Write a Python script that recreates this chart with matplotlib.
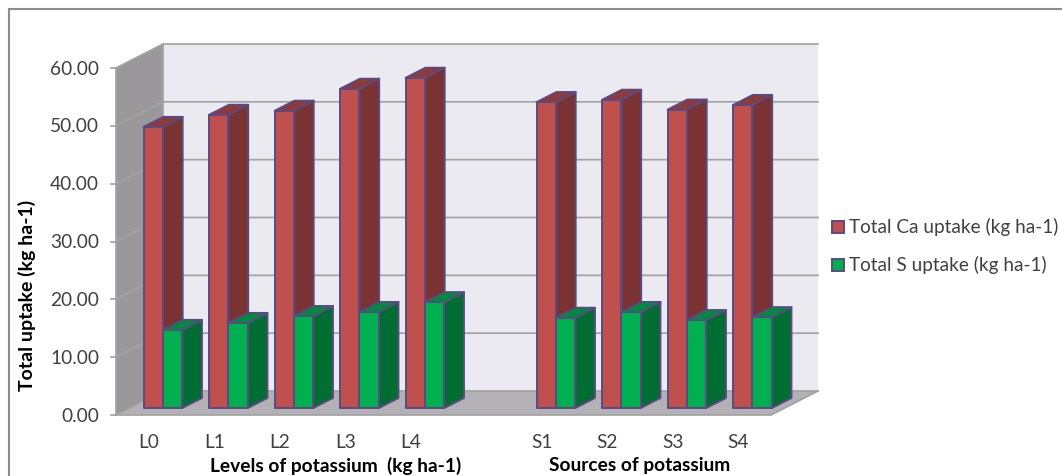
import matplotlib
matplotlib.use("Agg")
import matplotlib.pyplot as plt
from matplotlib.patches import Polygon, Rectangle

plt.rcParams['font.family'] = ['Lato', 'DejaVu Sans']

categories = ['L0', 'L1', 'L2', 'L3', 'L4', '', 'S1', 'S2', 'S3', 'S4']
ca_uptake = [48.6, 50.7, 51.4, 55.2, 57.1, None, 52.9, 53.3, 51.6, 52.4]
s_uptake = [13.5, 14.7, 15.9, 16.6, 18.3, None, 15.6, 16.6, 15.2, 15.7]
y_ticks = [0, 10, 20, 30, 40, 50, 60]
series_names = ['Total Ca uptake (kg ha-1)', 'Total S uptake (kg ha-1)']

W, H = 1062, 476
fig = plt.figure(figsize=(W / 100, H / 100), dpi=100, facecolor='white')
L, R, B, T = 116, 771, 415, 68
ax = fig.add_axes([L / W, 1 - B / H, (R - L) / W, (B - T) / H])
ax.set_xlim(0, 10)
ax.set_ylim(0, 60)
ax.axis('off')

DX = 47 / 65.5
DY = 24 / ((B - T) / 60)


def pr(x, v, f):
    return (x + f * DX, v + f * DY)


def face(pts, **kw):
    ax.add_patch(Polygon([pr(*p) for p in pts], closed=True, clip_on=False, **kw))


GRID = '#A3A3A3'
LW = 1.25
# walls
face([(0, 0, 1), (10, 0, 1), (10, 60, 1), (0, 60, 1)], fc='#ECEAF1', ec='none', zorder=1)
face([(0, 0, 0), (0, 0, 1), (0, 60, 1), (0, 60, 0)], fc='#9A989B', ec='none', zorder=1)
face([(0, 0, 0), (10, 0, 0), (10, 0, 1), (0, 0, 1)], fc='#B4B1B6', ec='none', zorder=1)
for t in y_ticks:
    xa, ya = pr(0, t, 0)
    xb, yb = pr(0, t, 1)
    xc, yc = pr(10, t, 1)
    ax.plot([xa, xb, xc], [ya, yb, yc], color=GRID, lw=LW, zorder=2, clip_on=False,
            solid_joinstyle='miter')
    ax.plot([-0.07, 0], [t, t], color=GRID, lw=LW, zorder=2, clip_on=False)
    ax.text(-0.26, t - 0.2, f'{t:.2f}', ha='right', va='center', fontsize=13.8, color='#404040')
ax.plot([0, 0], [0, 60], color=GRID, lw=LW, zorder=2, clip_on=False)
ax.plot([0, 10, 10 + DX], [0, 0, DY], color=GRID, lw=LW, zorder=2, clip_on=False)
ax.plot([DX, DX], [DY, 60 + DY], color=GRID, lw=LW, zorder=2, clip_on=False)

# bars
EDGE = '#5A4A82'
BW = 19.3 / 65.5
X0 = 14 / 65.5
F0, F1 = 0.29, 0.71
series = [(ca_uptake, 0, '#C0504D', '#7A3232', '#8E3A38'),
          (s_uptake, 1, '#00B050', '#006E33', '#008A3E')]
for vals, k, front, side, top in series:
    for i, v in enumerate(vals):
        if v is None:
            continue
        x1 = i + X0 + k * BW
        x2 = x1 + BW
        z = 3 + i * 3 + k * 30
        style = dict(ec=EDGE, lw=1.4, joinstyle='round', zorder=z)
        face([(x2, 0, F0), (x2, 0, F1), (x2, v, F1), (x2, v, F0)], fc=side, **style)
        face([(x1, v, F0), (x2, v, F0), (x2, v, F1), (x1, v, F1)], fc=top, **style)
        face([(x1, 0, F0), (x2, 0, F0), (x2, v, F0), (x1, v, F0)], fc=front, **style)

for i, c in enumerate(categories):
    if c:
        ax.text(i + 0.5, -4.8, c, ha='center', va='center', fontsize=13.8, color='#404040', clip_on=False)

fig.text(27 / W, 1 - 295 / H, 'Total uptake (kg ha-1)', rotation=90, ha='center', va='center',
         fontsize=14, fontweight='bold', color='black')
fig.text(336 / W, 1 - 466 / H, 'Levels of potassium  (kg ha-1)', ha='center', va='center',
         fontsize=13.8, fontweight='bold', color='black')
fig.text(640 / W, 1 - 466 / H, 'Sources of potassium', ha='center', va='center',
         fontsize=13.8, fontweight='bold', color='black')

# legend
for name, col, yy in zip(series_names, ['#C0504D', '#00B050'], [227, 265]):
    fig.add_artist(Rectangle((832 / W, 1 - (yy + 6) / H), 12 / W, 12 / H, fc=col, ec=EDGE, lw=1.4,
                             transform=fig.transFigure))
    fig.text(849 / W, 1 - yy / H, name, ha='left', va='center', fontsize=13.7, color='#404040')

# chart frame
fig.add_artist(Rectangle((9 / W, 1 - 600 / H), 1200 / W, 591 / H, fc='none', ec='#8C8C8C', lw=1.5,
                         transform=fig.transFigure))
fig.savefig('out.png', dpi=100)
